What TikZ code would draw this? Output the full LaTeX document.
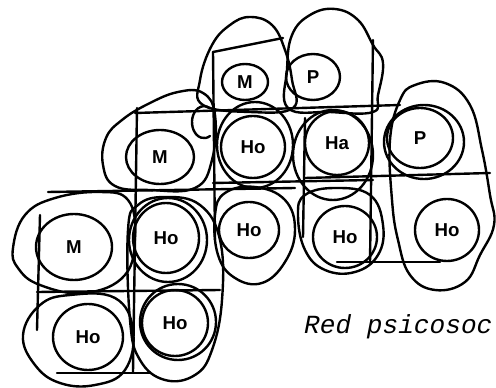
\documentclass[tikz,border=0pt]{standalone}
\usepackage{fontspec}
\setmainfont{Liberation Sans}
\newfontfamily\monoit{Liberation Mono}
\usetikzlibrary{shapes.geometric}
\begin{document}
\begin{tikzpicture}[x=0.75pt,y=-0.75pt, line width=1.8pt, line join=round, line cap=round,
  pers/.style={ellipse, draw, inner sep=0pt, font=\bfseries\fontsize{14}{14}\selectfont},
  sz/.style 2 args={minimum width=#1*0.75pt, minimum height=#2*0.75pt},
  blob/.style={draw},
  ring/.style={draw},
  rule/.style={draw}]
\useasboundingbox (0,0) rectangle (496,388);

% outer blobs
\draw[blob] plot[smooth cycle, tension=0.7] coordinates {(203,105) (200,80) (212,45) (230,25) (250,17) (272,25) (285,50) (292,80) (293,108) (250,112)};
\draw[blob] plot[smooth cycle, tension=0.7] coordinates {(288,108) (287,70) (292,35) (310,15) (335,9) (358,20) (373,45) (383,63) (378,95) (373,112) (330,112)};
\draw[blob] plot[smooth cycle, tension=0.7] coordinates {(103,165) (106,138) (122,120) (148,104) (178,92) (203,93) (215,115) (212,160) (195,188) (150,190) (115,186)};
\draw[blob] plot[smooth cycle, tension=0.7] coordinates {(13,248) (25,215) (55,198) (100,192) (128,200) (135,235) (125,275) (85,293) (40,285) (18,268)};
\draw[blob] plot[smooth cycle, tension=0.7] coordinates {(23,335) (40,305) (70,295) (115,298) (133,330) (125,370) (95,385) (60,383) (35,365)};
\draw[blob] plot[smooth cycle, tension=0.7] coordinates {(128,230) (138,205) (165,197) (200,205) (220,240) (222,300) (212,350) (195,375) (165,380) (140,360) (130,320)};
\draw[blob] plot[smooth cycle, tension=0.7] coordinates {(215,215) (225,193) (255,187) (285,200) (295,230) (285,262) (262,283) (235,278) (218,255)};
\draw[blob] plot[smooth cycle, tension=0.7] coordinates {(298,215) (305,195) (335,188) (370,195) (383,225) (378,255) (355,272) (325,270) (305,250)};
\draw[blob] plot[smooth cycle, tension=0.7] coordinates {(400,100) (415,85) (445,83) (470,105) (482,150) (490,195) (494,225) (480,255) (465,282) (435,290) (410,275) (398,240) (392,200) (390,140)};

% rings around circles
\draw[ring] (255,145) ellipse [x radius=38, y radius=43];
\draw[ring] (333,155) ellipse [x radius=40, y radius=45];
\draw[ring] (424,142) ellipse [x radius=40, y radius=37];
\draw[ring] (168,240) ellipse [x radius=39, y radius=42];
\draw[ring] (178,322) ellipse [x radius=38, y radius=38];
\draw[ring] (210,136) arc[start angle=60, end angle=300, x radius=12, y radius=16];

% straight rules
\draw[rule] (213,52) -- (283,38);
\draw[rule] (213,52) -- (215,240);
\draw[rule] (373,40) -- (370,263);
\draw[rule] (135,113) -- (400,105);
\draw[rule] (305,178) -- (490,173);
\draw[rule] (213,183) -- (373,180);
\draw[rule] (48,192) -- (295,188);
\draw[rule] (305,118) -- (303,237);
\draw[rule] (337,262) -- (440,262);
\draw[rule] (137,108) -- (133,372);
\draw[rule] (37,292) -- (220,290);
\draw[rule] (57,373) -- (150,373);
\draw[rule] (40,215) -- (37,330);

% persons
\node[pers, sz={46}{36}] (m1) at (245,82) {M};
\node[pers, sz={54}{46}] (p1) at (313,77) {P};
\node[pers, sz={68}{54}] (m2) at (160,157) {M};
\node[pers, sz={64}{62}] (ho1) at (253,147) {Ho};
\node[pers, sz={64}{64}] (ha) at (337,143) {Ha};
\node[pers, sz={66}{60}] (p2) at (420,138) {P};
\node[pers, sz={76}{66}] (m3) at (74,247) {M};
\node[pers, sz={66}{70}] (ho2) at (166,238) {Ho};
\node[pers, sz={60}{56}] (ho3) at (249,230) {Ho};
\node[pers, sz={64}{62}] (ho4) at (345,237) {Ho};
\node[pers, sz={64}{62}] (ho5) at (447,230) {Ho};
\node[pers, sz={70}{66}] (ho6) at (88,337) {Ho};
\node[pers, sz={66}{66}] (ho7) at (175,323) {Ho};

\node[anchor=base west, inner sep=0pt, font=\monoit\itshape\fontsize{19.6}{19.6}\selectfont] (cap) at (303,333) {Red psicosoc};
\end{tikzpicture}
\end{document}
